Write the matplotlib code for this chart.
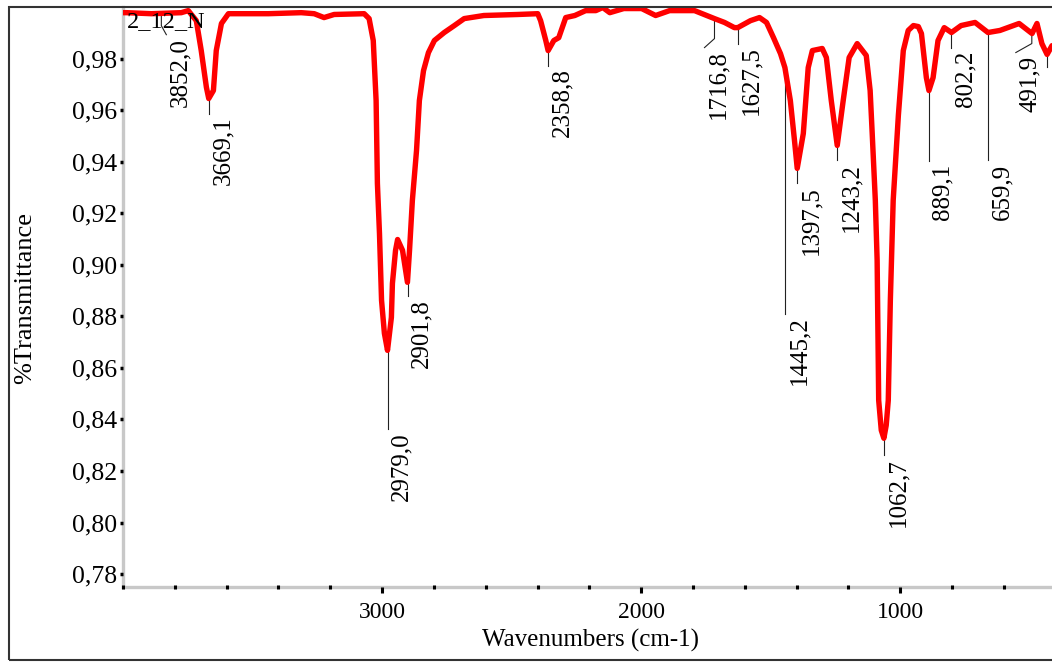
import matplotlib
matplotlib.use("Agg")
import matplotlib.pyplot as plt
import matplotlib.ticker as mticker
from matplotlib.patches import Rectangle
from matplotlib.transforms import IdentityTransform

plt.rcParams['font.family'] = ['Liberation Serif', 'DejaVu Serif']

# spectrum (cm-1, transmittance)
WAVENUMBER = [
    4000, 3987, 3890, 3775, 3748, 3717, 3698, 3678, 3669, 3651, 3640, 3620,
    3593, 3439, 3312, 3262, 3224, 3185, 3069, 3050, 3034, 3023, 3018, 3010,
    3002, 2991, 2979, 2964, 2960, 2948, 2940, 2921, 2902, 2894, 2883, 2867,
    2856, 2840, 2821, 2798, 2760, 2721, 2683, 2607, 2476, 2399, 2388, 2368,
    2359, 2337, 2318, 2291, 2256, 2214, 2175, 2148, 2121, 2067, 1998, 1944,
    1890, 1794, 1717, 1678, 1640, 1627, 1578, 1543, 1516, 1489, 1462, 1445,
    1424, 1408, 1397.5, 1374, 1355, 1339, 1301, 1285, 1266, 1243, 1220, 1197,
    1166, 1131, 1116, 1108, 1096, 1089, 1083, 1073, 1063, 1054, 1046, 1038,
    1027, 1007, 988, 969, 949, 930, 918, 899, 889, 873, 854, 830,
    802, 765, 711, 661, 615, 541, 491, 472, 453, 433, 414,
]
TRANSMITTANCE = [
    0.9978, 0.9978, 0.9974, 0.9978, 0.9986, 0.9947, 0.9831, 0.9688, 0.9645, 0.9676, 0.9831, 0.9936,
    0.9974, 0.9974, 0.9978, 0.9974, 0.9959, 0.9971, 0.9974, 0.9955, 0.9870, 0.9637, 0.9316, 0.9122,
    0.8862, 0.8734, 0.8668, 0.8796, 0.8928, 0.9056, 0.9098, 0.9056, 0.8932, 0.9056, 0.9250, 0.9443,
    0.9637, 0.9753, 0.9823, 0.9870, 0.9901, 0.9928, 0.9955, 0.9967, 0.9971, 0.9974, 0.9947, 0.9870,
    0.9831, 0.9870, 0.9881, 0.9959, 0.9967, 0.9986, 0.9986, 0.9998, 0.9978, 0.9994, 0.9994, 0.9967,
    0.9986, 0.9986, 0.9955, 0.9940, 0.9920, 0.9920, 0.9947, 0.9959, 0.9940, 0.9881, 0.9819, 0.9765,
    0.9637, 0.9482, 0.9374, 0.9509, 0.9765, 0.9831, 0.9839, 0.9804, 0.9637, 0.9463, 0.9637, 0.9804,
    0.9858, 0.9812, 0.9676, 0.9509, 0.9250, 0.9017, 0.8474, 0.8358, 0.8327, 0.8377, 0.8474, 0.8862,
    0.9250, 0.9580, 0.9831, 0.9909, 0.9928, 0.9924, 0.9897, 0.9726, 0.9676, 0.9726, 0.9870, 0.9920,
    0.9901, 0.9928, 0.9940, 0.9901, 0.9909, 0.9936, 0.9897, 0.9936, 0.9858, 0.9816, 0.9850,
]

# labelled peaks
PEAK_WN = [3852.0, 3669.1, 2979.0, 2901.8, 2358.8, 1716.8, 1627.5, 1445.2,
           1397.5, 1243.2, 1062.7, 889.1, 802.2, 659.9, 491.9, 433.0]
PEAK_T = [0.9974, 0.9645, 0.8668, 0.8932, 0.9831, 0.9955, 0.9920, 0.9765,
          0.9374, 0.9463, 0.8327, 0.9676, 0.9901, 0.9909, 0.9897, 0.9816]
PEAK_LABELS = ["3852,0", "3669,1", "2979,0", "2901,8", "2358,8", "1716,8", "1627,5", "1445,2",
               "1397,5", "1243,2", "1062,7", "889,1", "802,2", "659,9", "491,9", ""]

Y_TICKS = [0.78, 0.80, 0.82, 0.84, 0.86, 0.88, 0.90, 0.92, 0.94, 0.96, 0.98]
X_TICKS = [3000, 2000, 1000]

# leader layout in pixels (vertical drop, sideways kink)
LEADER_LEN = [12, 15, 79, 14, 15, 20, 16, 246, 15, 15, 17, 70, 15, 130, 10, 13]
LEADER_KINK = [5, 0, 0, 0, 0, -10, 0, 0, 0, 0, 0, 0, 0, 0, -16, 0]

W, H = 1052, 662
fig = plt.figure(figsize=(W / 100, H / 100), dpi=100)
ax = fig.add_axes([123 / W, 1 - 587 / H, 1 - 123 / W, (587 - 7) / H])

ax.plot(WAVENUMBER, TRANSMITTANCE, color='#ff0000', lw=3.9, zorder=3,
        solid_joinstyle='round', solid_capstyle='round')
ax.set_xlim(4000, 414)
ax.set_ylim(0.775, 1.0)

# axes styling (grey left/bottom, no top/right)
for s in ['top', 'right']:
    ax.spines[s].set_visible(False)
for s in ['left', 'bottom']:
    ax.spines[s].set_color('#c8c8c8')
    ax.spines[s].set_linewidth(2.4)
    ax.spines[s].set_zorder(0.5)

ax.yaxis.set_major_locator(mticker.FixedLocator(Y_TICKS))
ax.yaxis.set_major_formatter(mticker.FuncFormatter(lambda v, _: f"{v:.2f}".replace('.', ',')))
ax.xaxis.set_major_locator(mticker.FixedLocator(X_TICKS))
ax.xaxis.set_minor_locator(mticker.MultipleLocator(200))
ax.tick_params(axis='y', direction='out', length=2.5, width=2.5, color='black',
               pad=2, labelsize=18.5)
ax.tick_params(axis='x', which='major', direction='out', length=4, width=2.2,
               color='black', pad=7, labelsize=17)
ax.tick_params(axis='x', which='minor', direction='inout', length=2.2, width=2.2,
               color='black')

# peak labels with leader lines
fig.canvas.draw()
for wn, t, lab, L, k in zip(PEAK_WN, PEAK_T, PEAK_LABELS, LEADER_LEN, LEADER_KINK):
    px, py = ax.transData.transform((wn, t))
    xs = [px, px]
    ys = [py, py - L]
    if k:
        xs.append(px + k)
        ys.append(py - L - 9)
    ax.plot(xs, ys, color='#222222', lw=0.8, transform=IdentityTransform(),
            zorder=2, clip_on=False)
    if lab:
        ax.text(xs[-1] + 14, ys[-1] - 3, lab, rotation=90, ha='center', va='top',
                fontsize=18, transform=IdentityTransform(), zorder=4)

fig.text(127 / W, 1 - 11 / H, "2_12_N", fontsize=17.5, ha='left', va='top')
fig.text(25 / W, 1 - 298 / H, "%Transmittance", fontsize=19, rotation=90,
         ha='center', va='center')
fig.text(590 / W, 1 - 640 / H, "Wavenumbers (cm-1)", fontsize=18,
         ha='center', va='center')

# outer frame
fig.add_artist(Rectangle((9 / W, 2 / H), 1.5, (660 - 7) / H, transform=fig.transFigure,
                         fill=False, edgecolor='#333333', lw=1.5))

fig.savefig("out.png", dpi=100)
